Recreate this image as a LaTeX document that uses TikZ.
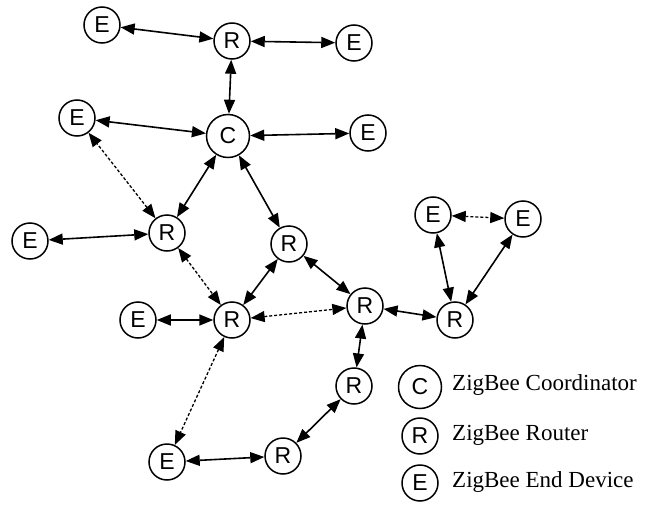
\documentclass[tikz,border=0pt]{standalone}
\usepackage{fontspec}
\setmainfont{Liberation Serif}
\newfontfamily\arialfont{Liberation Sans}
\usetikzlibrary{arrows.meta}

\tikzset{
  dev/.style={draw,circle,line width=1.5pt,inner sep=0pt,minimum size=36pt,
    font=\arialfont\fontsize{23}{23}\selectfont},
  coord/.style={dev,minimum size=43pt},
  link/.style={line width=1.6pt,{Triangle[length=14pt,width=11pt]}-{Triangle[length=14pt,width=11pt]}},
  weak/.style={link,line width=1.3pt,dash pattern=on 3pt off 2pt},
  legtext/.style={anchor=west,inner sep=0pt,font=\fontsize{23}{23}\selectfont}
}

\begin{document}
\begin{tikzpicture}[x=1pt,y=-1pt]
  \useasboundingbox (0,0) rectangle (651,506);
  % 节点
  \node[coord] (C)  at (228,136) {C};
  \node[dev]   (R1) at (232,41)  {R};
  \node[dev]   (R2) at (167,233) {R};
  \node[dev]   (R3) at (289,244) {R};
  \node[dev]   (R4) at (232,320) {R};
  \node[dev]   (R5) at (365,306) {R};
  \node[dev]   (R6) at (455,320) {R};
  \node[dev]   (R7) at (354,386) {R};
  \node[dev]   (R8) at (283,456) {R};
  \node[dev]   (E1) at (102,25)  {E};
  \node[dev]   (E2) at (354,43)  {E};
  \node[dev]   (E3) at (77,118)  {E};
  \node[dev]   (E4) at (368,133) {E};
  \node[dev]   (E5) at (30,241)  {E};
  \node[dev]   (E6) at (433,215) {E};
  \node[dev]   (E7) at (523,219) {E};
  \node[dev]   (E8) at (138,320) {E};
  \node[dev]   (E9) at (167,462) {E};
  % 连线
  \draw[link] (E1) -- (R1);
  \draw[link] (R1) -- (E2);
  \draw[link] (R1) -- (C);
  \draw[link] (E3) -- (C);
  \draw[link] (C) -- (E4);
  \draw[link] (C) -- (R2);
  \draw[link] (C) -- (R3);
  \draw[link] (E5) -- (R2);
  \draw[link] (R3) -- (R4);
  \draw[link] (R3) -- (R5);
  \draw[link] (E8) -- (R4);
  \draw[link] (R5) -- (R6);
  \draw[link] (R5) -- (R7);
  \draw[link] (E6) -- (R6);
  \draw[link] (E7) -- (R6);
  \draw[link] (R7) -- (R8);
  \draw[link] (E9) -- (R8);
  \draw[weak] (R2) -- (E3);
  \draw[weak] (R2) -- (R4);
  \draw[weak] (R4) -- (R5);
  \draw[weak] (E6) -- (E7);
  \draw[weak] (R4) -- (E9);
  % 图例
  \node[coord] (legC) at (420,387) {C};
  \node[dev]   (legR) at (420,436) {R};
  \node[dev]   (legE) at (420,483) {E};
  \node[legtext] (txtC) at (452,385) {ZigBee Coordinator};
  \node[legtext] (txtR) at (452,435) {ZigBee Router};
  \node[legtext] (txtE) at (452,482) {ZigBee End Device};
\end{tikzpicture}
\end{document}
